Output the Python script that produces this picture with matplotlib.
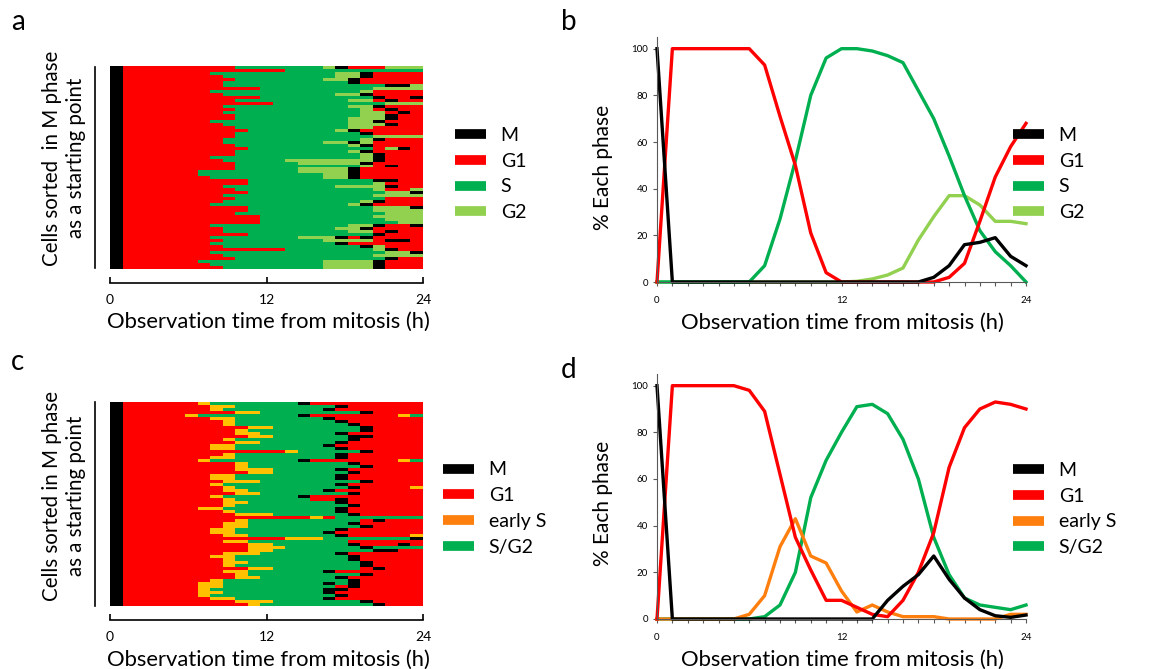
import numpy as np
import matplotlib
matplotlib.use('Agg')
import matplotlib.pyplot as plt
from matplotlib.colors import ListedColormap
from matplotlib.lines import Line2D

plt.rcParams['font.family'] = ['Lato', 'DejaVu Sans']

W, H = 1151, 669

hours = list(range(25))

# panel b: percentage of cells in each phase (Fucci, 4 phases)
m_b = [100, 0, 0, 0, 0, 0, 0, 0, 0, 0, 0, 0, 0, 0, 0, 0, 0, 0, 2, 7, 16, 17, 19, 11, 7]
g1_b = [0, 100, 100, 100, 100, 100, 100, 93, 71, 50, 21, 4, 0, 0, 0, 0, 0, 0, 0, 2, 8, 26, 45, 58, 68]
s_b = [0, 0, 0, 0, 0, 0, 0, 7, 27, 52, 80, 96, 100, 100, 99, 97, 94, 82, 70, 54, 37, 22, 13, 7, 0]
g2_b = [0, 0, 0, 0, 0, 0, 0, 0, 0, 0, 0, 0, 0, 0.3, 1.3, 3, 6, 18, 28, 37, 37, 33, 26, 26, 25]

# panel d
m_d = [100, 0, 0, 0, 0, 0, 0, 0, 0, 0, 0, 0, 0, 0, 0, 8, 14, 19, 27, 17, 9, 4, 1.4, 0.7, 1.7]
g1_d = [0, 100, 100, 100, 100, 100, 98, 89, 62, 35, 21, 8, 8, 5, 2, 1, 8, 20, 37, 65, 82, 90, 93, 92, 90]
es_d = [0, 0, 0, 0, 0, 0, 2, 10, 31, 43, 27, 24, 12, 3, 6, 3, 1, 1, 1, 0, 0, 0, 0, 2, 2]
sg2_d = [0, 0, 0, 0, 0, 0, 0, 1, 6, 20, 52, 68, 80, 91, 92, 88, 77, 60, 35, 19, 9, 6, 5, 4, 6]

labels_ab = ['M', 'G1', 'S', 'G2']
labels_cd = ['M', 'G1', 'early S', 'S/G2']

# single cell tracks, one row per cell, 25 hourly frames, run-length coded
# M = mitosis, R = G1, S = S, L = G2
rows_a = [
    "M R9 S7 L M R3 L3", "M R13 S11", "M R7 S10 L2 M R4", "M R8 S9 L2 M R4",
    "M R9 S7 L2 M R5", "M R8 S10 M R5", "M R8 S13 M2 L", "M R11 S9 L4",
    "M R7 S12 L R4", "M R8 S9 L2 M R4", "M R11 S9 M R2 M", "M R9 S9 L2 R M R2",
    "M R12 S9 L3", "M R8 S10 L2 M R3", "M R9 S10 L R M R2", "M R8 S11 L2 R M R",
    "M R9 S10 L2 M R2", "M R9 S9 L3 M R2", "M R7 S11 L2 M R3", "M R8 S10 L3 M R2",
    "M R9 S9 L2 R4", "M R10 S7 L M R5", "M R9 S10 M R4", "M R9 S11 L4",
    "M R8 S11 L M R3", "M R8 S8 L2 M L R4", "M R9 S9 L M R4", "M R10 S10 R L M R",
    "M R9 S9 L M R4", "M R9 S10 L M R3", "M R7 S12 L M R3", "M R8 S5 L7 M R3",
    "M R9 S5 L5 M R4", "M R9 S10 L R M R2", "M R9 S5 L4 M R5", "M R6 S8 L4 M R5",
    "M R6 S10 L2 M R5", "M R7 S9 L2 M R5", "M R10 S10 M2 R2", "M R10 S10 L R3",
    "M R8 S9 L4 M R2", "M R9 S11 L R2 L", "M R10 S11 L2 M", "M R8 S12 L4",
    "M R9 S12 R3", "M R8 S11 L M R3", "M R7 S11 L M R4", "M R10 S10 L3 M",
    "M R10 S10 L4", "M R9 S12 L3", "M R11 S9 L4", "M R11 S10 L3",
    "M R11 S11 L2", "M R7 S11 L2 M R2 M", "M R8 S9 L2 M R4", "M R8 S10 L2 R M R2",
    "M R10 S10 M R3", "M R7 S7 L3 M R M R4", "M R8 S8 L4 R M2 R", "M R7 S10 M R6",
    "M R8 S11 M L R3", "M R13 S7 L M R2", "M R7 S14 L2 M", "M R8 S12 L4",
    "M R9 S12 M R2", "M R6 S10 L4 M R3", "M R7 S9 L4 M R3", "M R8 S8 L4 M R3",
]

# M = mitosis, R = G1, Y = early S, S = S/G2
rows_c = [
    "M R6 Y S7 M R9", "M R7 Y2 S8 M R6", "M R7 Y S8 M R7", "M R9 Y2 S8 M R4",
    "M R5 Y S8 M R7 Y S", "M R7 Y2 S7 M R7", "M R8 Y S8 M R6", "M R8 Y S9 M R5",
    "M R10 Y2 S7 M R4", "M R9 Y S9 M R4", "M R9 Y2 S6 M R6", "M R10 Y2 S6 M2 R4",
    "M R8 Y S9 M R5", "M R9 Y2 S6 M R6", "M R7 Y2 S7 M R7", "M R7 Y2 S8 M R6",
    "M R13 Y S5 M R4", "M R8 Y S8 M R6", "M R7 Y2 S8 M R6", "M R6 Y S7 M R7 Y S",
    "M R9 Y S8 M R5", "M R9 Y S9 M R4", "M R9 Y3 S5 M R6", "M R10 Y2 S6 M R5",
    "M R7 Y2 S8 M R6", "M R7 Y2 S8 M R6", "M R8 Y3 S8 M R4", "M R7 Y S9 M R6",
    "M R8 Y S9 M R4 Y", "M R8 Y2 S6 M R7", "M R9 Y2 S7 M R5", "M R7 Y S6 M R9",
    "M R8 Y S6 R2 M R6", "M R8 Y2 S7 M R6", "M R8 Y S9 M R5", "M R6 Y2 S9 M R6",
    "M R8 Y S8 M R6", "M R9 Y3 S6 M R5", "M R15 Y R S7", "M R9 Y S9 R M R3",
    "M R8 Y2 S8 M R5", "M R8 Y2 S9 M R4", "M R7 Y2 S8 M R6", "M R7 Y2 S7 M R7",
    "M R8 Y2 S7 M R5 Y", "M R13 Y3 S7 M", "M R8 Y2 S8 R6", "M R10 Y2 S6 M R3 M R",
    "M R10 Y3 S6 M S4", "M R10 Y2 S8 M2 R2", "M R8 Y3 S6 M R6", "M R7 Y2 S9 M R5",
    "M R8 Y S9 M R5", "M R8 Y2 S9 M R4", "M R8 Y S10 M R4", "M R10 Y2 S7 R M R3",
    "M R8 Y2 S6 M R7", "M R9 Y S9 M R4", "M R9 Y2 S6 M R6", "M R7 Y S10 M R5",
    "M R6 Y2 S8 M S M R5", "M R6 Y2 S9 R M R5", "M R6 Y S9 M2 R6", "M R6 Y2 S8 M R7",
    "M R6 Y S10 M R6", "M R7 Y2 S7 M R7", "M R9 Y3 S7 M R4", "M R10 Y S9 M R3",
]

BLACK = '#000000'
RED = '#ff0000'
GREEN = '#00b050'
LGREEN = '#92d050'
ORANGE = '#ff7f0e'
GOLD = '#ffc000'


def fx(x):
    return x / W


def fy(y):
    return 1 - y / H


def expand_row(code, width=25):
    out = ''
    for tok in code.split():
        n = int(tok[1:]) if len(tok) > 1 else 1
        out += tok[0] * n
    if len(out) != width:
        print('row length', len(out), code)
    return (out + out[-1] * width)[:width]


def draw_heatmap(ax, rows, letters, colors):
    mat = np.array([[letters.index(ch) for ch in expand_row(r)] for r in rows])
    ax.imshow(mat, cmap=ListedColormap(colors), vmin=-0.5, vmax=len(colors) - 0.5,
              aspect='auto', interpolation='nearest', extent=[0, 24, len(rows), 0])
    for s in ['top', 'right', 'left']:
        ax.spines[s].set_visible(False)
    ax.spines['bottom'].set_position(('outward', 10))
    ax.spines['bottom'].set_linewidth(1.2)
    ax.set_xticks([0, 12, 24])
    ax.set_yticks([])
    ax.tick_params(axis='x', direction='in', length=4, width=1.2, labelsize=10, pad=8)


def draw_lines(ax, series, colors):
    # M last so it sits on top of the zero lines
    for vals, c in list(zip(series, colors))[::-1]:
        ax.plot(hours, vals, color=c, lw=2.4, clip_on=False)
    ax.set_xlim(0, 24)
    ax.set_ylim(0, 105)
    for s in ['top', 'right']:
        ax.spines[s].set_visible(False)
    for s in ['left', 'bottom']:
        ax.spines[s].set_color('#595959')
    ax.set_yticks(range(0, 101, 20))
    ax.set_xticks(hours)
    ax.set_xticklabels([str(h) if h % 12 == 0 else '' for h in hours])
    ax.tick_params(length=3, color='#595959', labelsize=7)
    ax.tick_params(axis='x', pad=7)


def add_legend(fig, labels, colors, x, y):
    handles = [Line2D([], [], color=c, lw=7, solid_capstyle='butt') for c in colors]
    fig.legend(handles, labels, loc='center left', bbox_to_anchor=(fx(x), fy(y)),
               frameon=False, fontsize=14, handlelength=1.6, handletextpad=0.75,
               labelspacing=0.45, borderpad=0, borderaxespad=0)


fig = plt.figure(figsize=(W / 100, H / 100), dpi=100)

ax_a = fig.add_axes([fx(110), fy(269), fx(313), 203 / H])
ax_b = fig.add_axes([fx(657), fy(282), fx(369), 245 / H])
ax_c = fig.add_axes([fx(110), fy(606), fx(313), 204 / H])
ax_d = fig.add_axes([fx(657), fy(619), fx(369), 245 / H])

draw_heatmap(ax_a, rows_a, 'MRSL', [BLACK, RED, GREEN, LGREEN])
draw_heatmap(ax_c, rows_c, 'MRYS', [BLACK, RED, GOLD, GREEN])
draw_lines(ax_b, [m_b, g1_b, s_b, g2_b], [BLACK, RED, GREEN, LGREEN])
draw_lines(ax_d, [m_d, g1_d, es_d, sg2_d], [BLACK, RED, ORANGE, GREEN])

add_legend(fig, labels_ab, [BLACK, RED, GREEN, LGREEN], 455, 174)
add_legend(fig, labels_ab, [BLACK, RED, GREEN, LGREEN], 1013, 174)
add_legend(fig, labels_cd, [BLACK, RED, ORANGE, GREEN], 443, 508.5)
add_legend(fig, labels_cd, [BLACK, RED, ORANGE, GREEN], 1013, 509)

xlab = 'Observation time from mitosis (h)'
fig.text(fx(268), fy(322), xlab, ha='center', va='center', fontsize=15.8)
fig.text(fx(268), fy(660), xlab, ha='center', va='center', fontsize=15.8)
fig.text(fx(842), fy(323), xlab, ha='center', va='center', fontsize=15.8)
fig.text(fx(842), fy(660), xlab, ha='center', va='center', fontsize=15.8)

fig.text(fx(603), fy(167), '% Each phase', rotation=90, ha='center', va='center', fontsize=15)
fig.text(fx(603), fy(503), '% Each phase', rotation=90, ha='center', va='center', fontsize=15)

fig.text(fx(64), fy(158), 'Cells sorted  in M phase\nas a starting point', rotation=90,
         ha='center', va='center', fontsize=14.8, linespacing=1.3)
fig.text(fx(64), fy(496), 'Cells sorted in M phase\nas a starting point', rotation=90,
         ha='center', va='center', fontsize=14.8, linespacing=1.3)

# bar next to the cell axis
for y0, y1 in [(67, 268), (402, 606)]:
    fig.add_artist(Line2D([fx(95), fx(95)], [fy(y0), fy(y1)], color='black', lw=1.2,
                          transform=fig.transFigure))

for letter, x, y in [('a', 18, 22), ('b', 569, 22), ('c', 18, 362), ('d', 569, 370)]:
    fig.text(fx(x), fy(y), letter, ha='center', va='center', fontsize=20)

fig.savefig('out.png', dpi=100)
